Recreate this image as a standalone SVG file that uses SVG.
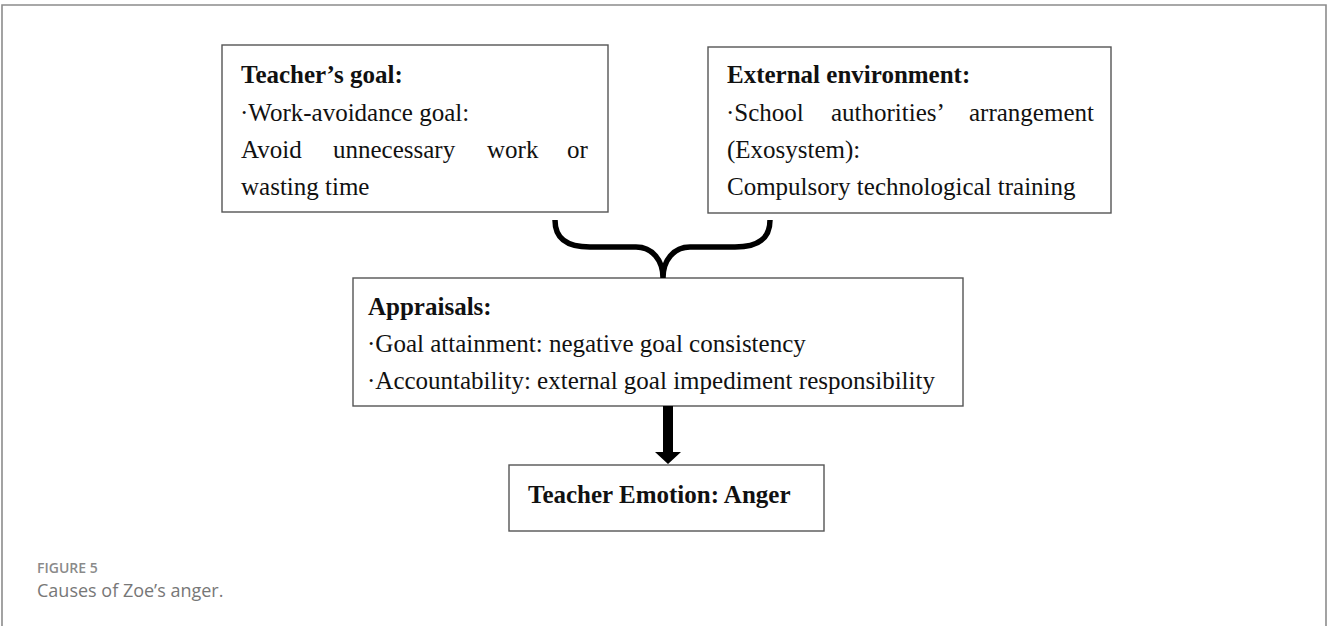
<svg xmlns="http://www.w3.org/2000/svg" width="1328" height="626" viewBox="0 0 1328 626">
<style>
.box{fill:#fff;stroke:#555;stroke-width:1.4}
.t{font-family:"Liberation Serif","Times New Roman",serif;font-size:25px;fill:#111}
.b{font-weight:bold}
.cap1{font-family:"Open Sans","Liberation Sans",sans-serif;font-size:14px;font-weight:600;fill:#8a8a8a}
.cap2{font-family:"Open Sans","Liberation Sans",sans-serif;font-size:18px;fill:#777}
</style>
<rect width="1328" height="626" fill="#fff"/>
<path d="M2,626 L2,5 L1326,5 L1326,626" fill="none" stroke="#8c8c8c" stroke-width="1.6"/>
<g id="goal">
<rect class="box" x="222" y="45" width="386" height="167"/>
<text class="t b" x="241" y="83">Teacher’s goal:</text>
<text class="t" x="240" y="121">·Work-avoidance goal:</text>
<text class="t" y="158"><tspan x="241">Avoid</tspan><tspan x="333">unnecessary</tspan><tspan x="487">work</tspan><tspan x="567">or</tspan></text>
<text class="t" x="241" y="195">wasting time</text>
</g>
<g id="environment">
<rect class="box" x="708" y="47" width="403" height="166"/>
<text class="t b" x="727" y="83">External environment:</text>
<text class="t" y="121"><tspan x="726">·School</tspan><tspan x="831">authorities’</tspan><tspan x="969">arrangement</tspan></text>
<text class="t" x="727" y="158">(Exosystem):</text>
<text class="t" x="727" y="195">Compulsory technological training</text>
</g>
<g id="appraisals">
<rect class="box" x="353" y="278" width="610" height="128"/>
<text class="t b" x="368" y="315">Appraisals:</text>
<text class="t" x="367" y="352">·Goal attainment: negative goal consistency</text>
<text class="t" x="367" y="389">·Accountability: external goal impediment responsibility</text>
</g>
<g id="emotion">
<rect class="box" x="509" y="465" width="315" height="66"/>
<text class="t b" x="528" y="503">Teacher Emotion: Anger</text>
</g>
<g id="connectors">
<path d="M555,220 C555,238 566,247 590,247 L636,247 C652,247 663,260 663,278 M770,220 C770,238 759,247 735,247 L690,247 C674,247 663,260 663,278" fill="none" stroke="#000" stroke-width="5.5"/>
<path d="M663,406 L673,406 L673,452 L681,452 L668,464 L655,452 L663,452 Z" fill="#000"/>
</g>
<text class="cap1" x="37" y="573">FIGURE 5</text>
<text class="cap2" x="37" y="597">Causes of Zoe’s anger.</text>
</svg>
